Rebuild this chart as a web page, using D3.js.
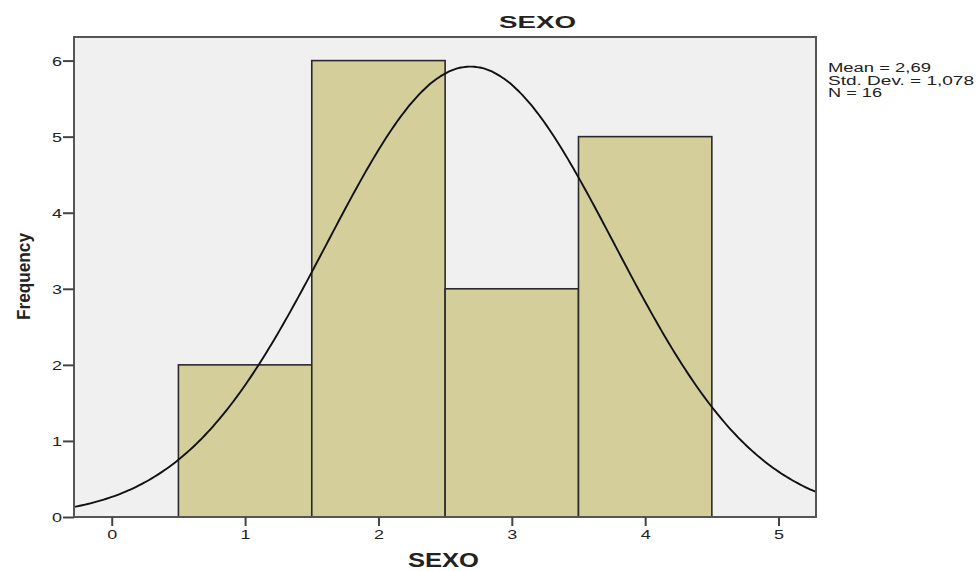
<!DOCTYPE html>
<html>
<head>
<meta charset="utf-8">
<script src="https://d3js.org/d3.v7.min.js"></script>
<style>
  body { margin: 0; background: #fff; }
  text { font-family: "Liberation Sans", Arial, sans-serif; fill: #222; }
</style>
</head>
<body>
<script>
// histogram data (SPSS)
var binCenters = [1, 2, 3, 4];
var counts = [2, 6, 3, 5];
var binWidth = 1;
var xTicks = [0, 1, 2, 3, 4, 5];
var yTicks = [0, 1, 2, 3, 4, 5, 6];
var mean = 2.69, sd = 1.078, n = 16;
var statLines = ["Mean = 2,69", "Std. Dev. = 1,078", "N = 16"];

var W = 979, H = 571;
var L = 74, R = 816, T = 37, B = 517;

var svg = d3.select("body").append("svg").attr("width", W).attr("height", H);

var x = d3.scaleLinear().domain([-0.283, 5.281]).range([L, R]);
var y = d3.scaleLinear().domain([0, 6.31]).range([B, T]);

svg.append("rect").attr("x", L).attr("y", T).attr("width", R - L).attr("height", B - T)
  .attr("fill", "#f0f0f0");

svg.append("clipPath").attr("id", "clip").append("rect")
  .attr("x", L).attr("y", T).attr("width", R - L).attr("height", B - T);

var bars = binCenters.map(function(c, i) { return [c, counts[i]]; });
svg.selectAll("rect.bar").data(bars).enter().append("rect")
  .attr("class", "bar")
  .attr("x", function(d) { return x(d[0] - binWidth / 2); })
  .attr("y", function(d) { return y(d[1]); })
  .attr("width", function(d) { return x(d[0] + binWidth / 2) - x(d[0] - binWidth / 2); })
  .attr("height", function(d) { return B - y(d[1]); })
  .attr("fill", "#d3ce9a")
  .attr("stroke", "#2a2a2a")
  .attr("stroke-width", 1.6);

// fitted normal curve from the reported mean / sd
var dens = d3.range(-0.3, 5.3, 0.02).map(function(v) {
  var z = (v - mean) / sd;
  return [v, n * binWidth * Math.exp(-0.5 * z * z) / (sd * Math.sqrt(2 * Math.PI))];
});
svg.append("path").datum(dens)
  .attr("clip-path", "url(#clip)")
  .attr("d", d3.line().x(function(d) { return x(d[0]); }).y(function(d) { return y(d[1]); }).curve(d3.curveBasis))
  .attr("fill", "none").attr("stroke", "#111").attr("stroke-width", 1.9);

svg.append("rect").attr("x", L).attr("y", T).attr("width", R - L).attr("height", B - T)
  .attr("fill", "none").attr("stroke", "#555").attr("stroke-width", 2);

// axes
var yAxis = svg.append("g").attr("transform", "translate(" + L + ",0)")
  .call(d3.axisLeft(y).tickValues(yTicks).tickSize(11).tickPadding(1).tickFormat(d3.format("d")));
var xAxis = svg.append("g").attr("transform", "translate(0," + B + ")")
  .call(d3.axisBottom(x).tickValues(xTicks).tickSize(9).tickPadding(4).tickFormat(d3.format("d")));
[yAxis, xAxis].forEach(function(g) {
  g.select(".domain").remove();
  g.selectAll(".tick line").attr("stroke", "#444").attr("stroke-width", 2);
  g.selectAll(".tick text").attr("font-size", 13).attr("fill", "#333")
    .attr("font-family", "Liberation Sans, Arial, sans-serif")
    .attr("textLength", 10).attr("lengthAdjust", "spacingAndGlyphs");
});
yAxis.selectAll(".tick text").attr("dy", "0.36em");

// titles
svg.append("text").attr("x", 537.5).attr("y", 28).attr("text-anchor", "middle")
  .attr("font-size", 17).attr("font-weight", "bold")
  .attr("textLength", 77).attr("lengthAdjust", "spacingAndGlyphs").text("SEXO");
svg.append("text").attr("x", 443.5).attr("y", 567).attr("text-anchor", "middle")
  .attr("font-size", 20).attr("font-weight", "bold")
  .attr("textLength", 71).attr("lengthAdjust", "spacingAndGlyphs").text("SEXO");
svg.append("text").attr("transform", "translate(30,276.5) rotate(-90)").attr("text-anchor", "middle")
  .attr("font-family", "Liberation Sans Narrow, Arial Narrow, sans-serif")
  .attr("font-size", 19).attr("font-weight", "bold")
  .attr("textLength", 87).attr("lengthAdjust", "spacingAndGlyphs").text("Frequency");

var statW = [103, 146, 54];
svg.selectAll("text.stat").data(statLines).enter().append("text")
  .attr("class", "stat")
  .attr("x", 828)
  .attr("y", function(d, i) { return 72 + i * 12.5; })
  .attr("font-size", 12)
  .attr("textLength", function(d, i) { return statW[i]; })
  .attr("lengthAdjust", "spacingAndGlyphs")
  .text(function(d) { return d; });
</script>
</body>
</html>
